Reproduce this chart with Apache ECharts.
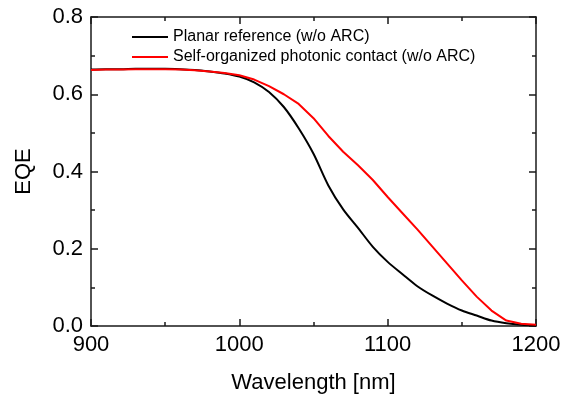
<!DOCTYPE html>
<html>
<head>
<meta charset="utf-8">
<script src="https://cdn.jsdelivr.net/npm/echarts@6/dist/echarts.min.js"></script>
<style>
html,body{margin:0;padding:0;background:#fff;}
#c{width:571px;height:394px;}
</style>
</head>
<body>
<div id="c"></div>
<script>
const wavelength = [900,910,920,930,940,950,960,970,980,990,1000,1010,1020,1030,1040,1050,1060,1070,1080,1090,1100,1110,1120,1130,1140,1150,1160,1170,1180,1190,1200];
const planarEQE = [0.664,0.665,0.665,0.666,0.666,0.666,0.665,0.663,0.659,0.654,0.646,0.631,0.606,0.567,0.512,0.446,0.364,0.302,0.254,0.205,0.166,0.134,0.103,0.079,0.058,0.040,0.027,0.014,0.007,0.003,0.001];
const photonicEQE = [0.663,0.664,0.664,0.665,0.665,0.665,0.664,0.662,0.659,0.655,0.649,0.638,0.621,0.600,0.575,0.538,0.492,0.451,0.416,0.378,0.334,0.292,0.250,0.206,0.162,0.118,0.076,0.040,0.014,0.006,0.003];
const seriesNames = ['Planar reference (w/o ARC)','Self-organized photonic contact (w/o ARC)'];
const xTicks = [900,1000,1100,1200];
const yTicks = [0.0,0.2,0.4,0.6,0.8];

const FONT = '"Liberation Sans", Arial, sans-serif';
const axisCol = '#1a1a1a';
function pairs(xs, ys){ return xs.map((x,i)=>[x,ys[i]]); }

function xAxisCfg(pos, showLabel, name){
  return {
    type:'value', position:pos, min:xTicks[0], max:xTicks[xTicks.length-1], interval:xTicks[1]-xTicks[0],
    name: name, nameLocation:'middle', nameGap:46,
    nameTextStyle:{fontFamily:FONT,fontSize:22,color:'#000'},
    axisLine:{show:true,onZero:false,lineStyle:{color:axisCol,width:1.5}},
    axisTick:{show:true,inside:true,length:7,lineStyle:{color:axisCol,width:1.5}},
    minorTick:{show:true,splitNumber:2,length:4,lineStyle:{color:axisCol,width:1.5}},
    axisLabel:{show:showLabel,fontFamily:FONT,fontSize:22,color:'#000',margin:8,formatter:v=>String(v)},
    splitLine:{show:false}, minorSplitLine:{show:false}
  };
}
function yAxisCfg(pos, showLabel, name){
  return {
    type:'value', position:pos, min:yTicks[0], max:yTicks[yTicks.length-1], interval:yTicks[1]-yTicks[0],
    name: name, nameLocation:'middle', nameGap:56,
    nameTextStyle:{fontFamily:FONT,fontSize:22,color:'#000'},
    axisLine:{show:true,onZero:false,lineStyle:{color:axisCol,width:1.5}},
    axisTick:{show:true,inside:true,length:7,lineStyle:{color:axisCol,width:1.5}},
    minorTick:{show:true,splitNumber:2,length:4,lineStyle:{color:axisCol,width:1.5}},
    axisLabel:{show:showLabel,fontFamily:FONT,fontSize:22,color:'#000',margin:8,formatter:v=>v.toFixed(1)},
    splitLine:{show:false}, minorSplitLine:{show:false}
  };
}

const chart = echarts.init(document.getElementById('c'), null, {renderer:'canvas'});
chart.setOption({
  animation:false,
  backgroundColor:'#fff',
  grid:{left:91,right:35,top:17,bottom:68,containLabel:false,outerBoundsMode:'none'},
  legend:{
    left:127, top:23, orient:'vertical', icon:'rect', itemWidth:36, itemHeight:2, itemGap:2,
    textStyle:{fontFamily:FONT,fontSize:16,color:'#000',lineHeight:18,padding:[0,0,0,0]},
    data:seriesNames
  },
  xAxis:[xAxisCfg('bottom',true,'Wavelength [nm]'), xAxisCfg('top',false,'')],
  yAxis:[yAxisCfg('left',true,'EQE'), yAxisCfg('right',false,'')],
  series:[
    {name:seriesNames[0],type:'line',data:pairs(wavelength,planarEQE),showSymbol:false,smooth:0.3,
     lineStyle:{color:'#000',width:2},itemStyle:{color:'#000'}},
    {name:seriesNames[1],type:'line',data:pairs(wavelength,photonicEQE),showSymbol:false,smooth:false,
     lineStyle:{color:'#ff0000',width:2},itemStyle:{color:'#ff0000'}}
  ]
});
</script>
</body>
</html>
